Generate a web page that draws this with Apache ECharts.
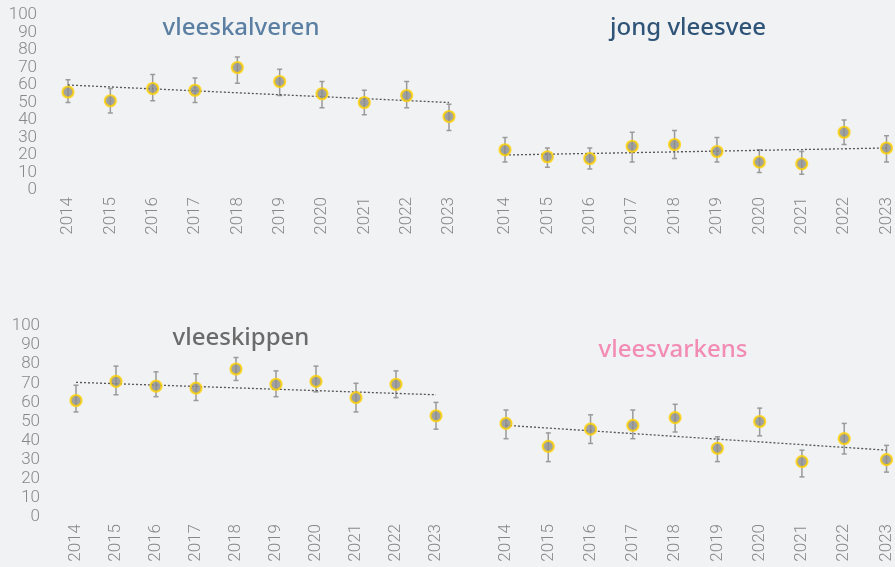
<!DOCTYPE html>
<html>
<head>
<meta charset="utf-8">
<script src="https://cdn.jsdelivr.net/npm/echarts@6/dist/echarts.min.js"></script>
<style>
  html, body { margin: 0; padding: 0; background: #f1f2f4; }
  #chart { width: 895px; height: 567px; }
</style>
</head>
<body>
<div id="chart"></div>
<script>
const years = ['2014', '2015', '2016', '2017', '2018', '2019', '2020', '2021', '2022', '2023']
const yTicks = [0, 10, 20, 30, 40, 50, 60, 70, 80, 90, 100]

const titles = ['vleeskalveren', 'jong vleesvee', 'vleeskippen', 'vleesvarkens']

const kalverenMean = [56, 51, 58, 57, 70, 62, 55, 50, 54, 42]
const kalverenLow = [50, 44, 51, 50, 61, 54, 47, 43, 47, 34]
const kalverenHigh = [63, 58, 66, 64, 76, 69, 62, 57, 62, 49]
const kalverenTrend = [60, 50]

const vleesveeMean = [23, 19, 18, 25, 26, 22, 16, 15, 33, 24]
const vleesveeLow = [16, 13, 12, 16, 18, 16, 10, 9, 26, 16]
const vleesveeHigh = [30, 24, 24, 33, 34, 30, 23, 22, 40, 31]
const vleesveeTrend = [20, 24]

const kippenMean = [61, 71, 68.5, 67.5, 77.5, 69.5, 71, 62.5, 69.5, 53]
const kippenLow = [55, 64, 63, 61, 71.5, 63, 65.5, 55, 62.5, 46]
const kippenHigh = [69, 79, 76, 75, 83.5, 76.5, 79, 70, 76.5, 60]
const kippenTrend = [70.5, 64]

const varkensMean = [49, 37, 46, 48, 52, 36, 50, 29, 41, 30]
const varkensLow = [41, 29, 38.5, 41, 44.5, 29, 42.5, 21, 33, 23.5]
const varkensHigh = [56, 44, 53.5, 56, 59, 42, 57, 35, 49, 37.5]
const varkensTrend = [48, 35]

const labelStyle = {
  color: '#888',
  fontFamily: 'Roboto',
  fontWeight: 300,
  fontSize: 17,
}

// grids: boundaryGap off, so first and last year sit on the grid edges
const grids = [
  { left: 68, top: 15, width: 381, height: 175 },
  { left: 505, top: 15, width: 384, height: 175 },
  { left: 76, top: 326, width: 360, height: 191 },
  { left: 506, top: 326, width: 382, height: 191 },
]

const panels = [
  { mean: kalverenMean, low: kalverenLow, high: kalverenHigh, trend: kalverenTrend, color: '#5a7fa3', x: 241, y: 16 },
  { mean: vleesveeMean, low: vleesveeLow, high: vleesveeHigh, trend: vleesveeTrend, color: '#2f5478', x: 688, y: 16 },
  { mean: kippenMean, low: kippenLow, high: kippenHigh, trend: kippenTrend, color: '#6b6b6b', x: 241, y: 326 },
  { mean: varkensMean, low: varkensLow, high: varkensHigh, trend: varkensTrend, color: '#f28cb3', x: 673, y: 338 },
]

function errorBar(params, api) {
  const top = api.coord([api.value(0), api.value(2)])
  const bottom = api.coord([api.value(0), api.value(1)])
  const cap = 2.5
  const style = { stroke: '#9a9a9a', lineWidth: 1.5 }
  return {
    type: 'group',
    children: [
      { type: 'line', shape: { x1: top[0], y1: top[1], x2: bottom[0], y2: bottom[1] }, style },
      { type: 'line', shape: { x1: top[0] - cap, y1: top[1], x2: top[0] + cap, y2: top[1] }, style },
      { type: 'line', shape: { x1: bottom[0] - cap, y1: bottom[1], x2: bottom[0] + cap, y2: bottom[1] }, style },
    ],
  }
}

const series = []
panels.forEach((p, i) => {
  series.push({
    type: 'custom',
    xAxisIndex: i,
    yAxisIndex: i,
    renderItem: errorBar,
    data: years.map((y, k) => [k, p.low[k], p.high[k]]),
    z: 1,
    silent: true,
  })
  series.push({
    type: 'line',
    xAxisIndex: i,
    yAxisIndex: i,
    data: [[0, p.trend[0]], [years.length - 1, p.trend[1]]],
    symbol: 'none',
    lineStyle: { color: '#555', width: 1.3, type: [2, 2] },
    z: 2,
    silent: true,
  })
  series.push({
    type: 'scatter',
    xAxisIndex: i,
    yAxisIndex: i,
    data: p.mean,
    symbolSize: 11,
    itemStyle: { color: '#8c8c8c', borderColor: '#ffd200', borderWidth: 2.2 },
    z: 3,
  })
})

const chart = echarts.init(document.getElementById('chart'))
chart.setOption({
  backgroundColor: '#f1f2f4',
  animation: false,
  title: panels.map((p, i) => ({
    text: titles[i],
    left: p.x,
    top: p.y,
    textAlign: 'center',
    padding: 0,
    textStyle: { color: p.color, fontFamily: 'Noto Sans', fontWeight: 500, fontSize: 24 },
  })),
  grid: grids,
  xAxis: grids.map((g, i) => ({
    type: 'category',
    gridIndex: i,
    data: years,
    boundaryGap: false,
    axisLine: { show: false },
    axisTick: { show: false },
    axisLabel: { ...labelStyle, rotate: 90, margin: 7, interval: 0 },
  })),
  yAxis: grids.map((g, i) => ({
    type: 'value',
    gridIndex: i,
    min: yTicks[0],
    max: yTicks[yTicks.length - 1],
    interval: 10,
    splitLine: { show: false },
    axisLine: { show: false },
    axisTick: { show: false },
    axisLabel: { ...labelStyle, show: i % 2 === 0, margin: i === 0 ? 31 : 36 },
  })),
  series: series,
})
</script>
</body>
</html>
